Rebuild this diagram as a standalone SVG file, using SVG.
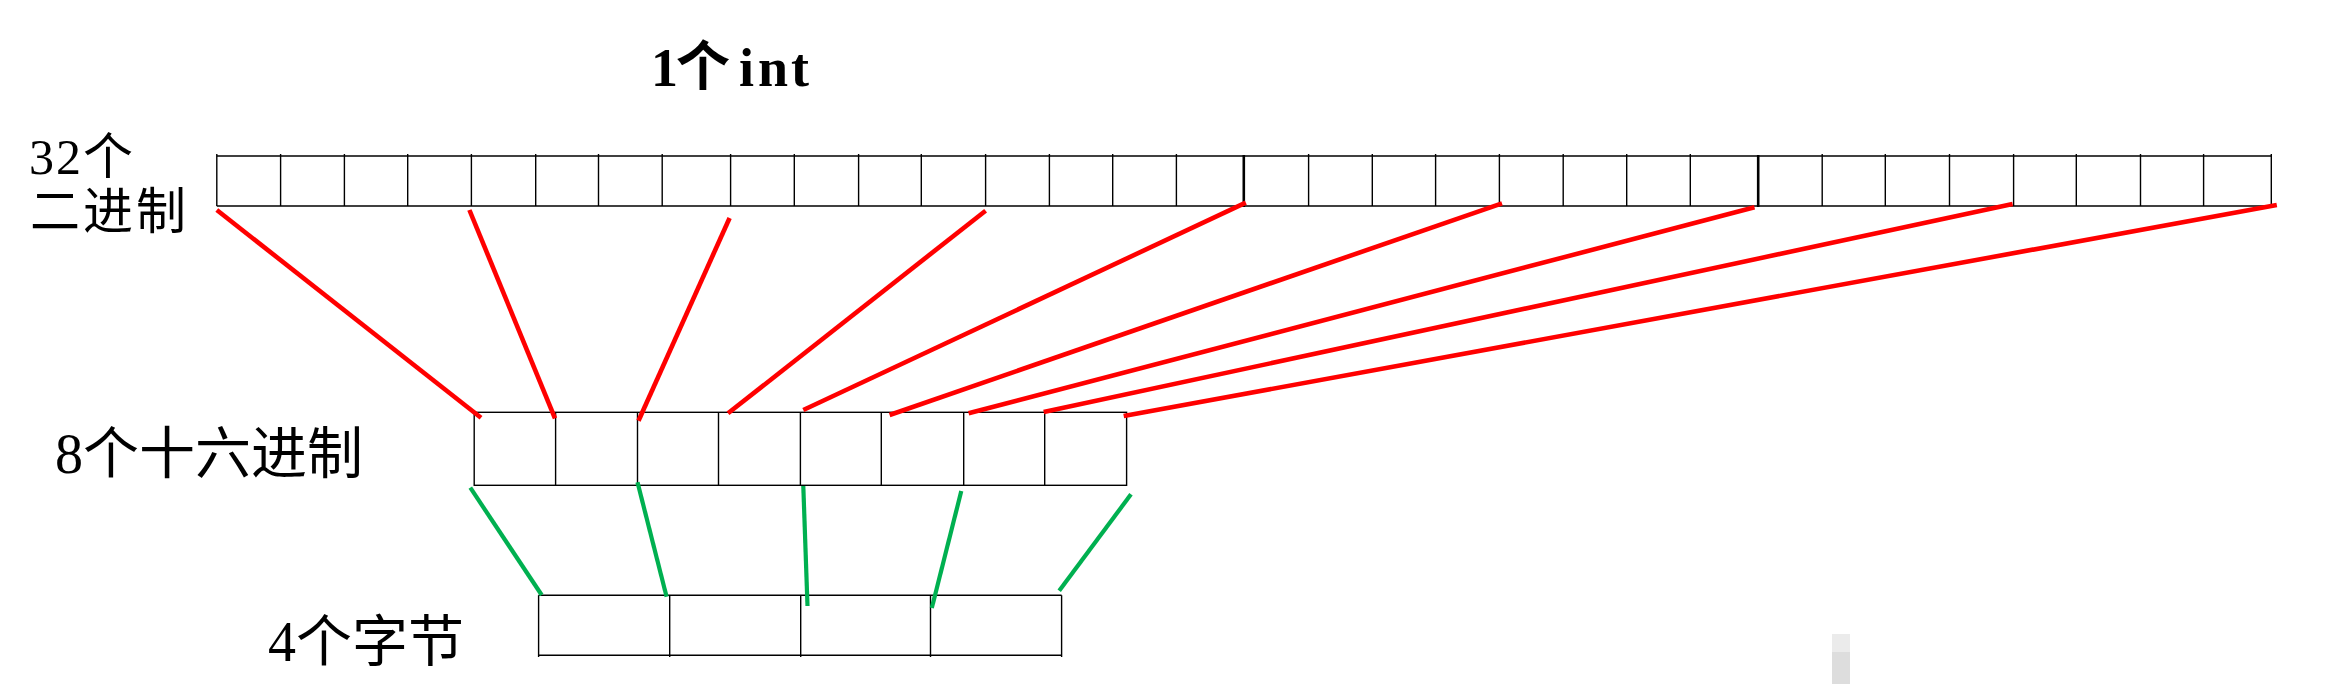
<svg xmlns="http://www.w3.org/2000/svg" width="2346" height="684" viewBox="0 0 2346 684">
<style>
.grid{fill:none;stroke:#000;stroke-width:1.4}
.thick{stroke:#000;stroke-width:2.6}
.red{stroke:#FF0000;stroke-width:4.6;stroke-linecap:butt}
.green{stroke:#00B050;stroke-width:4.2;stroke-linecap:butt}
.lbl{font-family:"Liberation Serif","Noto Sans CJK SC",serif;fill:#000}
</style>
<rect width="2346" height="684" fill="#fff"/>
<g id="title"><text class="lbl" font-size="54" font-weight="bold" x="651 676 739 758 791" y="86">1个int</text></g>
<g id="label-32"><text class="lbl" font-size="50" x="29" y="174" letter-spacing="2">32个</text><text class="lbl" font-size="50" x="30" y="229" letter-spacing="3">二进制</text></g>
<g id="label-8"><text class="lbl" font-size="56" x="55" y="473">8个十六进制</text></g>
<g id="label-4"><text class="lbl" font-size="56" x="268" y="661">4个字节</text></g>
<g id="binary-row" class="grid">
<line x1="216.8" y1="156" x2="2271.3" y2="156"/>
<line x1="216.8" y1="206" x2="2271.3" y2="206"/>
<path d="M216.8 154V206M280.6 154V206M344.4 154V206M407.7 154V206M471.4 154V206M535.7 154V206M598.5 154V206M662.2 154V206M730.6 154V206M794.3 154V206M858.6 154V206M921.3 154V206M985.6 154V206M1049.4 154V206M1112.7 154V206M1176.4 154V206M1308.6 154V206M1372.3 154V206M1435.6 154V206M1499.4 154V206M1563.2 154V206M1626.7 154V206M1690.3 154V206M1822.2 154V206M1885.3 154V206M1949.5 154V206M2013.6 154V206M2076.3 154V206M2140.5 154V206M2203.6 154V206M2271.3 154V206"/>
<path class="thick" d="M1243.8 155V207M1758.2 155V207"/>
</g>
<g id="hex-row" class="grid">
<rect x="474.2" y="412.3" width="652.4" height="73"/>
<path d="M555.6 412.3V485.3M637.5 412.3V485.3M718.5 412.3V485.3M800.4 412.3V485.3M881.3 412.3V485.3M963.7 412.3V485.3M1044.7 412.3V485.3"/>
</g>
<g id="byte-row" class="grid">
<line x1="538.6" y1="595.3" x2="1061.6" y2="595.3"/>
<line x1="538.6" y1="655.3" x2="1061.6" y2="655.3"/>
<path d="M538.6 595.3V657M669.7 595.3V657M800.7 595.3V657M930.5 595.3V657M1061.6 595.3V657"/>
</g>
<g id="connectors">
<line class="red" x1="216.8" y1="210" x2="481" y2="417.7"/>
<line class="red" x1="469.4" y1="210" x2="555" y2="418.3"/>
<line class="red" x1="729.6" y1="218" x2="638.5" y2="420.7"/>
<line class="red" x1="985.6" y1="210.7" x2="728" y2="413.3"/>
<line class="red" x1="1245.8" y1="202.7" x2="803.3" y2="410"/>
<line class="red" x1="1502" y1="203.3" x2="889.6" y2="415"/>
<line class="red" x1="1754.5" y1="207.3" x2="968.6" y2="413.3"/>
<line class="red" x1="2012.6" y1="204" x2="1043.7" y2="412"/>
<line class="red" x1="2276.8" y1="205" x2="1123.7" y2="416"/>
<line class="green" x1="470.3" y1="487.7" x2="541.7" y2="595"/>
<line class="green" x1="637.5" y1="482.3" x2="666.6" y2="596.7"/>
<line class="green" x1="803.3" y1="486" x2="807.5" y2="606"/>
<line class="green" x1="961.3" y1="491" x2="931.8" y2="608"/>
<line class="green" x1="1131" y1="494.3" x2="1059.2" y2="590.7"/>
</g>
<rect x="1832" y="634" width="18" height="18" fill="#EBEBEB"/>
<rect x="1832" y="652" width="18" height="32" fill="#DDDDDD"/>
</svg>
